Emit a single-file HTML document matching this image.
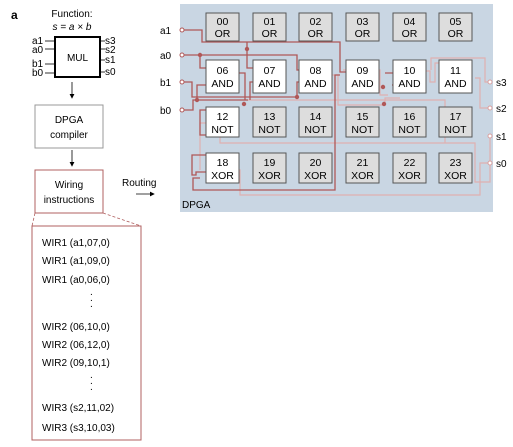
<!DOCTYPE html>
<html><head><meta charset="utf-8"><style>
body{margin:0;background:#fff;width:513px;height:442px;overflow:hidden;font-family:"Liberation Sans",sans-serif}
</style></head><body>
<svg width="513" height="442" viewBox="0 0 513 442" xmlns="http://www.w3.org/2000/svg" font-family="Liberation Sans, sans-serif">
<defs><marker id="ar" markerWidth="6" markerHeight="6" refX="5" refY="3" orient="auto"><path d="M0,0 L6,3 L0,6z" fill="#000"/></marker></defs>
<text x="11" y="19" font-size="12" font-weight="bold">a</text>
<text x="72" y="17" font-size="10" text-anchor="middle">Function:</text>
<text x="72" y="30" font-size="10" text-anchor="middle" font-style="italic">s = a × b</text>
<rect x="55" y="37" width="45" height="40" fill="#fff" stroke="#000" stroke-width="2"/>
<text x="77.5" y="61" font-size="10" text-anchor="middle">MUL</text>
<g font-size="10"><text x="32" y="44">a1</text><text x="32" y="53">a0</text><text x="32" y="67">b1</text><text x="32" y="76">b0</text>
<text x="105" y="44">s3</text><text x="105" y="53">s2</text><text x="105" y="63">s1</text><text x="105" y="75">s0</text></g>
<g stroke="#000" stroke-width="0.8"><line x1="45" y1="41" x2="55" y2="41"/><line x1="45" y1="49" x2="55" y2="49"/><line x1="45" y1="64" x2="55" y2="64"/><line x1="45" y1="73" x2="55" y2="73"/>
<line x1="100" y1="41" x2="105" y2="41"/><line x1="100" y1="49" x2="105" y2="49"/><line x1="100" y1="60" x2="105" y2="60"/><line x1="100" y1="72" x2="105" y2="72"/>
<line x1="72" y1="82" x2="72" y2="98" marker-end="url(#ar)"/><line x1="72" y1="150" x2="72" y2="166" marker-end="url(#ar)"/><line x1="136" y1="194" x2="154" y2="194" marker-end="url(#ar)"/></g>
<rect x="35" y="105" width="68" height="43" fill="#fff" stroke="#999"/>
<text x="69" y="123" font-size="10" text-anchor="middle">DPGA</text><text x="69" y="138" font-size="10" text-anchor="middle">compiler</text>
<rect x="35" y="170" width="68" height="43" fill="#fff" stroke="#b06060"/>
<text x="69" y="188" font-size="10" text-anchor="middle">Wiring</text><text x="69" y="203" font-size="10" text-anchor="middle">instructions</text>
<text x="122" y="186" font-size="10">Routing</text>
<g stroke="#b06060" stroke-dasharray="3,2" stroke-width="0.8"><line x1="35" y1="213" x2="32" y2="226"/><line x1="103" y1="213" x2="141" y2="226"/></g>
<rect x="32" y="226" width="109" height="214" fill="#fff" stroke="#b06060"/>
<g font-size="10"><text x="42" y="246">WIR1 (a1,07,0)</text><text x="42" y="264">WIR1 (a1,09,0)</text><text x="42" y="283">WIR1 (a0,06,0)</text>
<text x="42" y="330">WIR2 (06,10,0)</text><text x="42" y="348">WIR2 (06,12,0)</text><text x="42" y="366">WIR2 (09,10,1)</text>
<text x="42" y="411">WIR3 (s2,11,02)</text><text x="42" y="431">WIR3 (s3,10,03)</text>
<text x="90" y="295">.</text><text x="90" y="301">.</text><text x="90" y="307">.</text>
<text x="90" y="378">.</text><text x="90" y="384">.</text><text x="90" y="390">.</text></g>
<rect x="180" y="4" width="313" height="208" fill="#c9d6e3"/>
<text x="182" y="208" font-size="10">DPGA</text>
<g font-size="10"><text x="160" y="34">a1</text><text x="160" y="59">a0</text><text x="160" y="86">b1</text><text x="160" y="114">b0</text>
<text x="496" y="86">s3</text><text x="496" y="112">s2</text><text x="496" y="140">s1</text><text x="496" y="167">s0</text></g>
<g fill="none" stroke="#e0b0b0" stroke-width="1.2">
<path d="M425 71 H430 V82 H435 V63 H470 V60"/><path d="M431 70 V58 H485 V82 H490"/><path d="M475 78 H480 V108 H490"/>
<path d="M343 70 H380 V95 H388"/><path d="M240 100 H445 V143"/><path d="M220 125 V143 H475 V182 H490 V136"/>
<path d="M230 170 H240 V195 H480 V163 H490"/><path d="M418 80 H425 V70"/><path d="M200 170 V123 H206"/>
<path d="M322 75 H338 V105 H385 V98 H400"/></g>
<g fill="none" stroke="#b05858" stroke-width="1.3">
<path d="M182 30 H202 V42 H340 V72 H347"/><path d="M247 42 V68 H253"/>
<path d="M182 55 H297 V70 H300"/><path d="M200 55 V68 H206"/>
<path d="M182 82 H192 V97 H297"/><path d="M297 97 V82 H300"/><path d="M250 100 V82 H253"/>
<path d="M182 110 H193 V100 H248"/><path d="M197 100 V85 H206"/>
<path d="M239 73 H245 V100"/><path d="M206 172 H196 V175 H192 V155 H206"/><path d="M200 178 H193 V190 H335 V75 H340"/>
<path d="M213 135 H200 V110 H210"/><path d="M385 73 H395 V85 H392"/></g>
<g fill="#b05858"><circle cx="200" cy="55" r="2.2"/><circle cx="247" cy="49" r="2.2"/><circle cx="197" cy="100" r="2.2"/><circle cx="297" cy="97" r="2.2"/><circle cx="244" cy="104" r="2.2"/><circle cx="384" cy="104" r="2.2"/><circle cx="383" cy="87" r="2.2"/></g>
<g fill="#fff" stroke="#b05858"><circle cx="182" cy="30" r="2"/><circle cx="182" cy="55" r="2"/><circle cx="182" cy="82" r="2"/><circle cx="182" cy="110" r="2"/></g>
<g fill="#fff" stroke="#d8a0a0"><circle cx="490" cy="82" r="2"/><circle cx="490" cy="108" r="2"/><circle cx="490" cy="136" r="2"/><circle cx="490" cy="163" r="2"/></g>
<g font-size="10" text-anchor="middle" stroke="#555">
<g id="cells"></g>
</g>
<g font-size="10.5" text-anchor="middle">
<rect x="206" y="13" width="33" height="28" fill="#ddd" stroke="#555"/><text x="222.5" y="25">00</text><text x="222.5" y="37">OR</text>
<rect x="253" y="13" width="33" height="28" fill="#ddd" stroke="#555"/><text x="269.5" y="25">01</text><text x="269.5" y="37">OR</text>
<rect x="299" y="13" width="33" height="28" fill="#ddd" stroke="#555"/><text x="315.5" y="25">02</text><text x="315.5" y="37">OR</text>
<rect x="346" y="13" width="33" height="28" fill="#ddd" stroke="#555"/><text x="362.5" y="25">03</text><text x="362.5" y="37">OR</text>
<rect x="393" y="13" width="33" height="28" fill="#ddd" stroke="#555"/><text x="409.5" y="25">04</text><text x="409.5" y="37">OR</text>
<rect x="439" y="13" width="33" height="28" fill="#ddd" stroke="#555"/><text x="455.5" y="25">05</text><text x="455.5" y="37">OR</text>
<rect x="206" y="60" width="33" height="33" fill="#fff" stroke="#555"/><text x="222.5" y="74">06</text><text x="222.5" y="87">AND</text>
<rect x="253" y="60" width="33" height="33" fill="#fff" stroke="#555"/><text x="269.5" y="74">07</text><text x="269.5" y="87">AND</text>
<rect x="299" y="60" width="33" height="33" fill="#fff" stroke="#555"/><text x="315.5" y="74">08</text><text x="315.5" y="87">AND</text>
<rect x="346" y="60" width="33" height="33" fill="#fff" stroke="#555"/><text x="362.5" y="74">09</text><text x="362.5" y="87">AND</text>
<rect x="393" y="60" width="33" height="33" fill="#fff" stroke="#555"/><text x="409.5" y="74">10</text><text x="409.5" y="87">AND</text>
<rect x="439" y="60" width="33" height="33" fill="#fff" stroke="#555"/><text x="455.5" y="74">11</text><text x="455.5" y="87">AND</text>
<rect x="206" y="107" width="33" height="30" fill="#fff" stroke="#555"/><text x="222.5" y="120">12</text><text x="222.5" y="133">NOT</text>
<rect x="253" y="107" width="33" height="30" fill="#ddd" stroke="#555"/><text x="269.5" y="120">13</text><text x="269.5" y="133">NOT</text>
<rect x="299" y="107" width="33" height="30" fill="#ddd" stroke="#555"/><text x="315.5" y="120">14</text><text x="315.5" y="133">NOT</text>
<rect x="346" y="107" width="33" height="30" fill="#ddd" stroke="#555"/><text x="362.5" y="120">15</text><text x="362.5" y="133">NOT</text>
<rect x="393" y="107" width="33" height="30" fill="#ddd" stroke="#555"/><text x="409.5" y="120">16</text><text x="409.5" y="133">NOT</text>
<rect x="439" y="107" width="33" height="30" fill="#ddd" stroke="#555"/><text x="455.5" y="120">17</text><text x="455.5" y="133">NOT</text>
<rect x="206" y="153" width="33" height="30" fill="#fff" stroke="#555"/><text x="222.5" y="166">18</text><text x="222.5" y="179">XOR</text>
<rect x="253" y="153" width="33" height="30" fill="#ddd" stroke="#555"/><text x="269.5" y="166">19</text><text x="269.5" y="179">XOR</text>
<rect x="299" y="153" width="33" height="30" fill="#ddd" stroke="#555"/><text x="315.5" y="166">20</text><text x="315.5" y="179">XOR</text>
<rect x="346" y="153" width="33" height="30" fill="#ddd" stroke="#555"/><text x="362.5" y="166">21</text><text x="362.5" y="179">XOR</text>
<rect x="393" y="153" width="33" height="30" fill="#ddd" stroke="#555"/><text x="409.5" y="166">22</text><text x="409.5" y="179">XOR</text>
<rect x="439" y="153" width="33" height="30" fill="#ddd" stroke="#555"/><text x="455.5" y="166">23</text><text x="455.5" y="179">XOR</text>
</g>
</svg>
</body></html>
